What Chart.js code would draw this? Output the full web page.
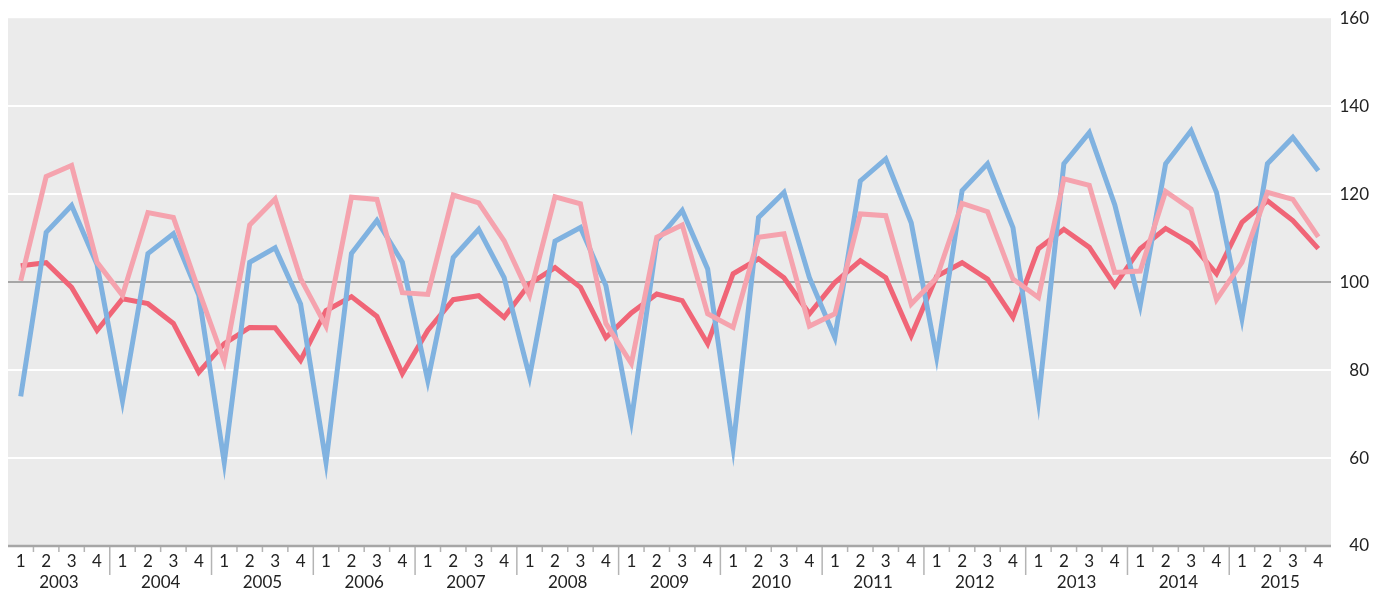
<!DOCTYPE html>
<html>
<head>
<meta charset="utf-8">
<script src="https://cdn.jsdelivr.net/npm/chart.js@4.4.0/dist/chart.umd.min.js"></script>
<style>
  html, body { margin: 0; padding: 0; background: #fff; }
  #wrap { width: 1389px; height: 596px; }
</style>
</head>
<body>
<div id="wrap"><canvas id="chart" width="1389" height="596"></canvas></div>
<script>
const years = ["2003", "2004", "2005", "2006", "2007", "2008", "2009", "2010", "2011", "2012", "2013", "2014", "2015"];
const quarters = ["1", "2", "3", "4"];
const yTicks = [40, 60, 80, 100, 120, 140, 160];

const blueSeries = [
  74, 111.3, 117.4, 104,   73, 106.5, 111, 97,   59, 104.5, 107.8, 95,   59, 106.5, 114, 104.5,
  77.6, 105.6, 112, 101,   78.5, 109.3, 112.4, 99.2,   68.5, 109.4, 116.3, 103,   62.5, 114.7, 120.4, 101,
  87.4, 123, 128, 113.5,   83, 120.8, 126.9, 112.4,   73, 126.9, 134, 117.6,   94.7, 126.9, 134.4, 120.4,
  91.7, 126.9, 132.9, 125.3
];
const redSeries = [
  103.7, 104.4, 98.8, 89,   96.2, 95.1, 90.6, 79.5,   86, 89.7, 89.6, 82.2,   93.5, 96.7, 92.2, 79.2,
  89, 96, 96.9, 92,   99.6, 103.3, 98.8, 87.4,   93, 97.3, 95.8, 86,   101.9, 105.3, 101, 92.8,
  99.9, 104.9, 101, 87.8,   101.3, 104.4, 100.7, 92,   107.6, 112, 107.9, 99.2,   107.6, 112.2, 108.8, 101.9,
  113.6, 118.5, 114, 107.6
];
const pinkSeries = [
  100.3, 124, 126.5, 104.5,   97, 115.8, 114.7, 98,   82, 113, 118.9, 100.8,   90, 119.3, 118.8, 97.6,
  97.2, 119.8, 118, 109.4,   97, 119.4, 117.8, 90.6,   81.5, 110.2, 113, 92.8,   89.7, 110.2, 111, 90,
  92.8, 115.5, 115.1, 95,   101, 117.9, 116, 100.7,   96.5, 123.5, 122, 102.2,   102.5, 120.6, 116.6, 96,
  104.5, 120.4, 118.8, 110.3
];

const labels = [];
years.forEach(y => quarters.forEach(q => labels.push(y + "-" + q)));

const FAMILY = "Lato, 'Noto Sans', sans-serif";
const FONT = "17px " + FAMILY;

// grey plot background
const bgPlugin = {
  id: "bg",
  beforeDraw(chart) {
    const { ctx, chartArea: a } = chart;
    ctx.save();
    ctx.fillStyle = "#ebebeb";
    ctx.fillRect(a.left, a.top, a.right - a.left, a.bottom - a.top);
    ctx.restore();
  }
};

// quarter ticks, year separators and labels under the plot
const axisPlugin = {
  id: "quarterAxis",
  afterDraw(chart) {
    const { ctx, chartArea: a } = chart;
    const x = chart.scales.x;
    const n = labels.length;
    ctx.save();
    ctx.strokeStyle = "#b4b4b4";
    ctx.lineWidth = 1.5;
    for (let i = 1; i < n; i++) {
      const bx = (x.getPixelForValue(i - 1) + x.getPixelForValue(i)) / 2;
      const len = i % 4 === 0 ? 29 : 6;
      ctx.beginPath();
      ctx.moveTo(bx, a.bottom);
      ctx.lineTo(bx, a.bottom + len);
      ctx.stroke();
    }
    ctx.strokeStyle = "#a6a6a6";
    ctx.lineWidth = 2.5;
    ctx.beginPath();
    ctx.moveTo(a.left, a.bottom);
    ctx.lineTo(a.right, a.bottom);
    ctx.stroke();

    ctx.fillStyle = "#222";
    ctx.font = FONT;
    ctx.textAlign = "center";
    ctx.textBaseline = "middle";
    for (let i = 0; i < n; i++) {
      ctx.fillText(quarters[i % 4], x.getPixelForValue(i), a.bottom + 16);
    }
    years.forEach((y, j) => {
      const cx = (x.getPixelForValue(j * 4 + 1) + x.getPixelForValue(j * 4 + 2)) / 2;
      ctx.fillText(y, cx, a.bottom + 37);
    });
    ctx.restore();
  }
};

new Chart(document.getElementById("chart"), {
  type: "line",
  data: {
    labels: labels,
    datasets: [
      { label: "pink", data: pinkSeries, borderColor: "#f5a3ae", order: 0 },
      { label: "blue", data: blueSeries, borderColor: "#80b2e0", order: 1 },
      { label: "red", data: redSeries, borderColor: "#f06577", order: 2 },
    ],
  },
  options: {
    responsive: false,
    animation: false,
    layout: { padding: { left: 8, top: 17, bottom: 50, right: 20 } },
    elements: {
      line: { borderWidth: 5, tension: 0, fill: false, borderJoinStyle: "miter" },
      point: { radius: 0 },
    },
    plugins: { legend: { display: false }, tooltip: { enabled: false } },
    scales: {
      x: { type: "category", offset: true, display: false },
      y: {
        position: "right",
        min: 40,
        max: 160,
        afterBuildTicks(scale) { scale.ticks = yTicks.map(v => ({ value: v })); },
        afterFit(scale) { scale.width = 38; },
        border: { display: false },
        grid: {
          drawTicks: false,
          lineWidth: 2,
          color: c => c.tick.value === 100 ? "#a6a6a6" : (c.tick.value === 160 ? "rgba(0,0,0,0)" : "#ffffff"),
        },
        ticks: {
          padding: 8,
          crossAlign: "far",
          color: "#222",
          font: { family: FAMILY, size: 17 },
        },
      },
    },
  },
  plugins: [bgPlugin, axisPlugin],
});
</script>
</body>
</html>
